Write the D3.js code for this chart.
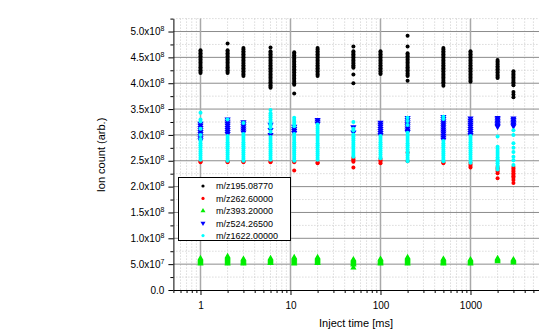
<!DOCTYPE html>
<html><head><meta charset="utf-8">
<script src="https://cdn.jsdelivr.net/npm/d3@7"></script>
<style>
html,body{margin:0;padding:0;background:#fff;}
svg{display:block;font-family:"Liberation Sans",Arial,sans-serif;}
</style></head>
<body><svg id="chart" width="539" height="331"></svg>
<script>
// ---- data (ion counts in units of 1e8) ----
const injectTimes = [1, 2, 3, 6, 11, 20, 50, 100, 200, 500, 1000, 2000, 3000];
const seriesNames = ["m/z195.08770", "m/z262.60000", "m/z393.20000", "m/z524.26500", "m/z1622.00000"];
const unit = 1e8;
const mz195 = [
  [4.64,4.61,4.58,4.55,4.52,4.49,4.46,4.43,4.40,4.37,4.34,4.31,4.28,4.25,4.22,4.20],
  [4.77,4.64,4.61,4.58,4.55,4.52,4.49,4.46,4.43,4.40,4.37,4.34,4.31,4.28,4.25,4.22,4.20],
  [4.68,4.65,4.62,4.59,4.56,4.53,4.50,4.47,4.44,4.41,4.38,4.35,4.32,4.29,4.26,4.23,4.20,4.17,4.14],
  [4.69,4.62,4.59,4.56,4.53,4.50,4.47,4.44,4.41,4.38,4.35,4.32,4.29,4.26,4.23,4.20,4.17,4.14,4.11,4.08,4.05,4.02,3.99,3.96,3.93,3.91],
  [4.60,4.57,4.54,4.51,4.48,4.45,4.42,4.39,4.36,4.33,4.30,4.27,4.24,4.21,4.18,4.15,4.12,4.09,4.06,4.03,4.00,3.97,3.80],
  [4.68,4.65,4.62,4.59,4.56,4.53,4.50,4.47,4.44,4.41,4.38,4.35,4.32,4.29,4.26,4.23,4.20,4.17,4.14],
  [4.71,4.62,4.59,4.56,4.53,4.50,4.47,4.44,4.41,4.38,4.35,4.32,4.30,4.17,4.00],
  [4.62,4.59,4.56,4.53,4.50,4.47,4.44,4.41,4.38,4.35,4.32,4.29,4.26,4.23,4.20,4.18],
  [4.92,4.71,4.58,4.55,4.52,4.49,4.46,4.43,4.40,4.37,4.34,4.31,4.28,4.25,4.22,4.19,4.16,4.14,4.05],
  [4.68,4.65,4.62,4.59,4.56,4.53,4.50,4.47,4.44,4.41,4.38,4.35,4.32,4.29,4.26,4.23,4.20,4.17,4.14,4.11,4.08,4.05,4.02,3.99,3.95],
  [4.62,4.59,4.56,4.53,4.50,4.47,4.44,4.41,4.38,4.35,4.32,4.29,4.26,4.23,4.20,4.17,4.14,4.11,4.08,4.05,4.03],
  [4.45,4.42,4.39,4.36,4.33,4.30,4.27,4.24,4.21,4.18,4.15,4.12,4.10],
  [4.23,4.20,4.17,4.14,4.11,4.08,4.05,4.02,3.99,3.96,3.83,3.78,3.73]
];
const mz262 = [
  [2.49,2.47],[2.49,2.47],[2.49,2.47],[2.49,2.47],[2.49,2.47,2.31],[2.47,2.45],
  [2.56,2.53,2.50,2.48,2.37],[2.54,2.51,2.48,2.45],[2.66,2.49],[2.47,2.45],
  [2.46,2.43,2.40,2.37],[2.38,2.35,2.32,2.29,2.26,2.16],
  [2.38,2.35,2.32,2.29,2.26,2.23,2.20,2.17,2.13,2.07]
];
const mz393 = [
  [0.61,0.59,0.57,0.55,0.53,0.51],
  [0.65,0.63,0.61,0.59,0.57,0.55,0.53,0.51],
  [0.60,0.58,0.56,0.54,0.52,0.51],
  [0.61,0.59,0.57,0.55,0.53,0.52],
  [0.63,0.61,0.59,0.57,0.55,0.53,0.51],
  [0.63,0.61,0.59,0.57,0.55,0.53,0.52],
  [0.59,0.57,0.55,0.53,0.51,0.49,0.43],
  [0.60,0.58,0.56,0.54,0.52,0.51],
  [0.63,0.61,0.59,0.57,0.55,0.53,0.51],
  [0.60,0.58,0.56,0.54,0.52,0.51],
  [0.59,0.57,0.55,0.53,0.51],
  [0.61,0.59,0.57,0.55],
  [0.59,0.57,0.55,0.53]
];
const mz524 = [
  [3.22,3.18,3.14,3.10,3.06,3.02,2.98,2.94,2.90],
  [3.30,3.26,3.22,3.18,3.14,3.10,3.06,3.02],
  [3.25,3.21,3.17,3.13,3.09,3.05],
  [3.20,3.10,3.00],
  [3.16,3.12,3.08,3.04],
  [3.29,3.26,3.22],
  [3.15,3.05],
  [3.24,3.20,3.16,3.12,3.08,3.04,3.00],
  [3.33,3.29,3.25,3.21,3.17,3.13,3.09,3.06],
  [3.35,3.31,3.27,3.23,3.19,3.15,3.11,3.07,3.03,2.99,2.95,2.91],
  [3.32,3.28,3.24,3.20,3.16,3.12,3.08,3.04,3.00],
  [3.33,3.30,3.27,3.24,3.21,3.18,3.16],
  [3.32,3.29,3.26,3.23,3.20,3.17]
];
const mz1622 = [
  [3.43,3.30,3.26,3.12,3.00,2.92,2.88,2.84,2.80,2.76,2.72,2.68,2.64,2.60,2.56,2.52],
  [3.30,2.98,2.94,2.90,2.86,2.82,2.78,2.74,2.70,2.66,2.62,2.58,2.54,2.50],
  [3.23,3.02,2.98,2.94,2.90,2.86,2.82,2.78,2.74,2.70,2.66,2.62,2.58,2.54,2.50],
  [3.48,3.42,3.38,3.34,3.30,3.26,3.22,3.18,3.14,3.06,2.96,2.92,2.88,2.84,2.80,2.76,2.72,2.68,2.64,2.60,2.56,2.52],
  [3.33,3.29,3.25,3.21,3.17,3.02,2.98,2.94,2.90,2.86,2.82,2.78,2.74,2.70,2.66,2.62,2.58,2.54,2.50],
  [3.20,3.16,3.12,3.08,3.04,3.00,2.96,2.92,2.88,2.84,2.80,2.76,2.72,2.68,2.64,2.60,2.56,2.52],
  [3.25,3.12,3.09,3.01,2.97,2.93,2.89,2.85,2.81,2.77,2.73,2.69,2.65,2.61,2.58],
  [2.98,2.94,2.90,2.86,2.82,2.78,2.74,2.70,2.66,2.62,2.58,2.55],
  [3.33,3.27,3.19,3.04,3.00,2.96,2.92,2.88,2.84,2.80,2.76,2.72,2.68,2.64,2.60,2.56,2.52,2.49],
  [3.35,3.31,2.88,2.84,2.80,2.76,2.72,2.68,2.64,2.60,2.56,2.52,2.49],
  [2.98,2.94,2.90,2.86,2.82,2.78,2.74,2.70,2.66,2.62,2.58,2.54,2.50,2.46],
  [2.97,2.77,2.73,2.69,2.65,2.61,2.57,2.53,2.49,2.45,2.41,2.37,2.33],
  [3.09,3.00,2.84,2.75,2.67,2.58,2.51,2.42]
];
const yMajorTicks = [0, 5e7, 1e8, 1.5e8, 2e8, 2.5e8, 3e8, 3.5e8, 4e8, 4.5e8, 5e8];
const yMinorTicks = [2.5e7, 7.5e7, 1.25e8, 1.75e8, 2.25e8, 2.75e8, 3.25e8, 3.75e8, 4.25e8, 4.75e8, 5.25e8];
const xMajorTicks = [1, 10, 100, 1000];
const xMinorTicks = [0.5,0.6,0.7,0.8,0.9,2,3,4,5,6,7,8,9,20,30,40,50,60,70,80,90,200,300,400,500,600,700,800,900,2000,3000,4000,5000,6000,7000,8000,9000];
const xTitle = "Inject time [ms]";
const yTitle = "Ion count (arb.)";

// ---- styles ----
const series = [
  {name: seriesNames[0], data: mz195, color: "#000000", shape: "circle"},
  {name: seriesNames[1], data: mz262, color: "#ff0000", shape: "circle"},
  {name: seriesNames[2], data: mz393, color: "#00ee00", shape: "up"},
  {name: seriesNames[3], data: mz524, color: "#0000ff", shape: "down"},
  {name: seriesNames[4], data: mz1622, color: "#00ffff", shape: "circle"}
];

const svg = d3.select("#chart");
const plotLeft = 173.4, plotBottom = 290, plotTop = 18.6;
const x = d3.scaleLog().domain([0.5, 10000]).range([plotLeft, plotLeft + 90 * Math.log10(20000)]);
const y = d3.scaleLinear().domain([0, 5.25e8]).range([plotBottom, plotTop]);
const xEnd = 545;

// grid
const gg = svg.append("g");
gg.append("g").selectAll("line").data(yMinorTicks).join("line")
  .attr("x1", plotLeft).attr("x2", xEnd).attr("y1", d => y(d)).attr("y2", d => y(d))
  .attr("stroke", "#c8c8c8").attr("stroke-width", 1).attr("stroke-dasharray", "1,2");
gg.append("g").selectAll("line").data(xMinorTicks.filter(d => d > 0.5)).join("line")
  .attr("x1", d => x(d)).attr("x2", d => x(d)).attr("y1", plotTop).attr("y2", plotBottom)
  .attr("stroke", "#c8c8c8").attr("stroke-width", 1).attr("stroke-dasharray", "1,2");
gg.append("g").selectAll("line").data(yMajorTicks.filter(d => d > 0)).join("line")
  .attr("x1", plotLeft).attr("x2", xEnd).attr("y1", d => y(d)).attr("y2", d => y(d))
  .attr("stroke", "#8c8c8c").attr("stroke-width", 1);
gg.append("g").selectAll("line").data(xMajorTicks).join("line")
  .attr("x1", d => x(d)).attr("x2", d => x(d)).attr("y1", plotTop).attr("y2", plotBottom)
  .attr("stroke", "#a8a8a8").attr("stroke-width", 1.5);

// points
function drawMarker(sel, shape, color, r) {
  if (shape === "circle") {
    sel.append("circle").attr("r", r).attr("fill", color);
  } else {
    sel.append("path").attr("d", d3.symbol().type(d3.symbolTriangle).size(r * r * 4.2)())
      .attr("transform", shape === "down" ? "rotate(180)" : null).attr("fill", color);
  }
}
series.forEach(s => {
  const pts = [];
  s.data.forEach((vals, i) => vals.forEach(v => pts.push([injectTimes[i], v * unit])));
  const sg = svg.append("g");
  sg.selectAll("g").data(pts).join("g")
    .attr("transform", d => `translate(${x(d[0])},${y(d[1])})`)
    .each(function() { drawMarker(d3.select(this), s.shape, s.color, 2); });
});

// axes
const yAxis = svg.append("g").attr("transform", `translate(${plotLeft},0)`)
  .call(d3.axisLeft(y).tickValues(yMajorTicks).tickSize(5).tickSizeOuter(0).tickFormat(() => ""));
svg.append("g").attr("transform", `translate(${plotLeft},0)`)
  .call(d3.axisLeft(y).tickValues(yMinorTicks).tickSize(3).tickSizeOuter(0).tickFormat(() => ""))
  .select(".domain").remove();
yAxis.selectAll(".tick text").each(function(d) {
  const t = d3.select(this).attr("font-size", 10).attr("fill", "#000").attr("x", -9)
    .attr("font-family", '"Liberation Sans",Arial,sans-serif');
  if (d === 0) { t.text("0.0"); return; }
  const e = Math.floor(Math.log10(d) + 1e-9);
  const m = d / Math.pow(10, e);
  t.text(m.toFixed(1) + "x10");
  t.append("tspan").attr("font-size", 7).attr("dy", -4).text(e);
});
const xAxis = svg.append("g").attr("transform", `translate(0,${plotBottom})`)
  .call(d3.axisBottom(x).tickValues(xMajorTicks).tickSize(5).tickSizeOuter(0).tickFormat(d3.format("d")));
xAxis.selectAll(".tick text").attr("font-size", 10).attr("fill", "#000").attr("dy", "1.1em")
  .attr("font-family", '"Liberation Sans",Arial,sans-serif');
svg.append("g").attr("transform", `translate(0,${plotBottom})`)
  .call(d3.axisBottom(x).tickValues(xMinorTicks).tickSize(3).tickSizeOuter(0).tickFormat(() => ""))
  .select(".domain").remove();

// axis titles
svg.append("text").attr("x", 356).attr("y", 327).attr("text-anchor", "middle")
  .attr("font-size", 11).text(xTitle);
svg.append("text").attr("transform", "translate(105,155) rotate(-90)").attr("text-anchor", "middle")
  .attr("font-size", 11).text(yTitle);

// legend
const lg = svg.append("g");
lg.append("rect").attr("x", 178.5).attr("y", 177.5).attr("width", 112).attr("height", 63)
  .attr("fill", "#fff").attr("stroke", "#000").attr("stroke-width", 1);
series.forEach((s, i) => {
  const yy = 186 + i * 12.4;
  const mg = lg.append("g").attr("transform", `translate(203,${yy})`);
  drawMarker(mg, s.shape, s.color, 1.6);
  lg.append("text").attr("x", 216).attr("y", yy + 3.3).attr("font-size", 9).text(s.name);
});
</script></body></html>
